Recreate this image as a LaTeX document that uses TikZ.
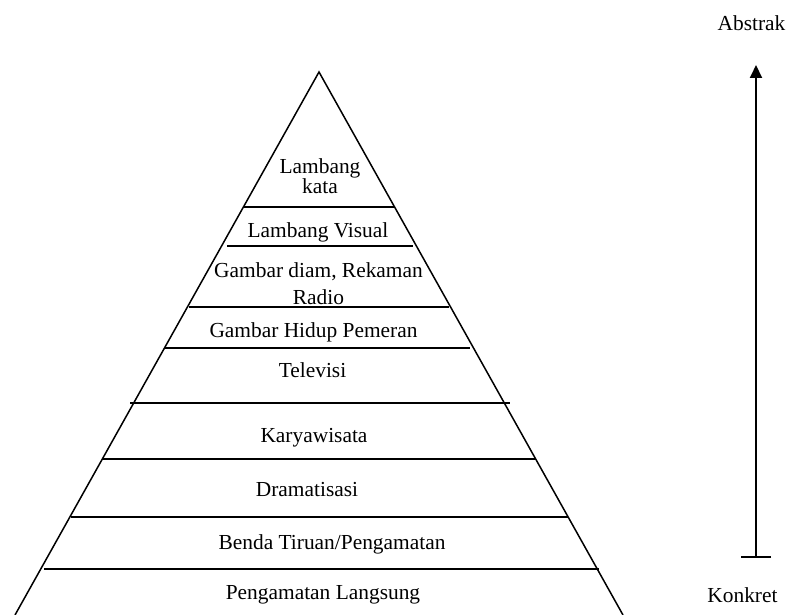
\documentclass[tikz,border=0pt]{standalone}
\usepackage{fontspec}
\setmainfont{Liberation Serif}
\usetikzlibrary{arrows.meta}

\begin{document}
\begin{tikzpicture}[x=0.5pt, y=-0.5pt,
    lbl/.style={font=\fontsize{10.7}{12}\selectfont, anchor=base, align=center, inner sep=0pt},
    layer/.style={line width=1pt}]
  \useasboundingbox (0,0) rectangle (792,615);

  % pyramid sides
  \coordinate (apex) at (319,72);
  \coordinate (baseL) at (15,615);
  \coordinate (baseR) at (623,615);
  \draw[line width=0.75pt] (baseL) -- (apex) -- (baseR);

  % layer dividers
  \draw[layer] (243,207) -- (395,207);
  \draw[layer] (227,246) -- (413,246);
  \draw[layer] (189,307) -- (449,307);
  \draw[layer] (165,348) -- (470,348);
  \draw[layer] (130,403) -- (510,403);
  \draw[layer] (102,459) -- (535,459);
  \draw[layer] (71,517) -- (568,517);
  \draw[layer] (44,569) -- (599,569);

  % two-line labels sit on the baseline of their last line
  \node[lbl] (kata) at (320,193) {Lambang\\[-2pt]kata};
  \node[lbl] (visual) at (318,237) {Lambang Visual};
  \node[lbl] (diam) at (318.5,304) {Gambar diam, Rekaman\\[1.5pt]Radio};
  \node[lbl] (hidup) at (313.5,337) {Gambar Hidup Pemeran};
  \node[lbl] (tv) at (312.5,377) {Televisi};
  \node[lbl] (wisata) at (314,442) {Karyawisata};
  \node[lbl] (drama) at (307,496) {Dramatisasi};
  \node[lbl] (tiruan) at (332,549) {Benda Tiruan/Pengamatan};
  \node[lbl] (langsung) at (323,599) {Pengamatan Langsung};

  % abstraction scale
  \coordinate (low) at (756,558);
  \coordinate (high) at (756,65);
  \draw[line width=1pt, {Bar[width=15pt]}-{Triangle[length=6.5pt,width=6pt]}] (low) -- (high);
  \node[lbl] (abstrak) at (751.5,31) {Abstrak};
  \node[lbl] (konkret) at (742.5,602) {Konkret};
\end{tikzpicture}
\end{document}
